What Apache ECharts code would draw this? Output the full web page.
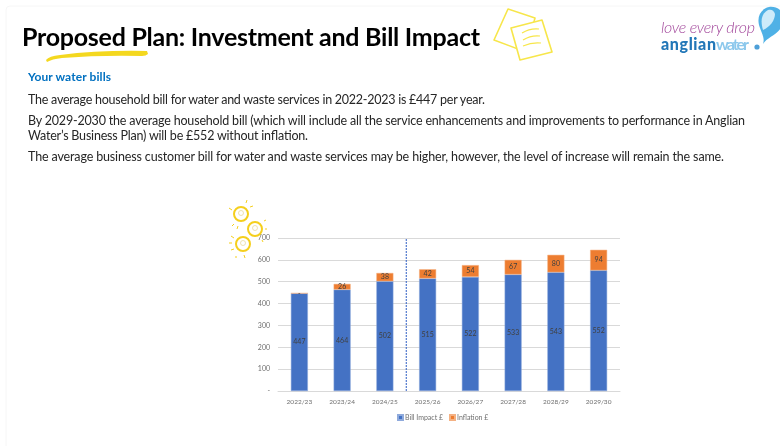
<!DOCTYPE html>
<html>
<head>
<meta charset="utf-8">
<title>Proposed Plan: Investment and Bill Impact</title>
<script src="https://cdn.jsdelivr.net/npm/echarts@6/dist/echarts.min.js"></script>
<style>
html, body { margin: 0; padding: 0; background: #fff; }
#slide { position: relative; width: 780px; height: 446px; overflow: hidden; }
#chart, #deco { position: absolute; left: 0; top: 0; width: 780px; height: 446px; }
#deco { pointer-events: none; }
#deco text { font-family: Lato, "Open Sans", sans-serif; }
</style>
</head>
<body>
<div id="slide">
  <div id="chart"></div>
  <svg id="deco" viewBox="0 0 780 446" xmlns="http://www.w3.org/2000/svg">
    <!-- slide edge -->
    <path d="M6 446V10q0-4 4-4H780" fill="none" stroke="#f6f6f6"/>
    <!-- heading -->
    <text x="22" y="46" font-size="25" font-weight="700" fill="#000" textLength="458">Proposed Plan: Investment and Bill Impact</text>
    <path d="M46 60Q49 56 60 55Q100 50 147 51L148 54Q146 56 142 56Q100 55 62 58Q52 59 47 62Z" fill="#f4d81f"/>
    <text x="28" y="81" font-size="12" font-weight="700" fill="#0070c0" textLength="83">Your water bills</text>
    <text x="28" y="104" font-size="12.5" fill="#262626" textLength="457">The average household bill for water and waste services in 2022-2023 is £447 per year.</text>
    <text x="28" y="125" font-size="12.5" fill="#262626" textLength="717">By 2029-2030 the average household bill (which will include all the service enhancements and improvements to performance in Anglian</text>
    <text x="28" y="140" font-size="12.5" fill="#262626" textLength="280">Water’s Business Plan) will be £552 without inflation.</text>
    <text x="28" y="161" font-size="12.5" fill="#262626" textLength="696">The average business customer bill for water and waste services may be higher, however, the level of increase will remain the same.</text>
    <!-- notes icon -->
    <g fill="#fff" stroke="#f7e64a" stroke-width="1.6" stroke-linejoin="round">
      <path d="M508 9L535 18L526 52L494 40Z"/>
      <path d="M511 28L542 20L552 52L520 60Z"/>
    </g>
    <g fill="none" stroke="#f7e64a" stroke-width="1.2">
      <path d="M522 33Q530 28 539 29"/>
      <path d="M523 40Q531 35 540 36"/>
      <path d="M523 46Q532 42 541 43"/>
    </g>
    <!-- logo -->
    <text x="661" y="33" font-size="16" font-weight="300" font-style="italic" fill="#a2479b" textLength="94">love every drop</text>
    <text x="661" y="50" font-size="16" font-weight="900" fill="#2277b8" textLength="55">anglian</text>
    <text x="716" y="50" font-size="16" font-weight="700" fill="#8cc8ec" textLength="33">water</text>
    <circle cx="757" cy="47" r="2.6" fill="#4d9fd8"/>
    <path d="M763 44C768 36 782 34 784 20C784 10 776 6 769 7C760 9 756 18 760 28C762 34 765 38 763 44Z" fill="#4fb1e6"/>
    <path d="M768 10C762 13 760 20 763 30C770 27 775 20 775 14C774 10 771 9 768 10Z" fill="#cdebfa"/>
    <!-- light bulbs -->
    <g fill="none" stroke="#f5cf1d">
      <circle cx="241" cy="214" r="7" stroke-width="2"/>
      <circle cx="255" cy="229" r="7" stroke-width="2"/>
      <circle cx="243" cy="244" r="7" stroke-width="2"/>
      <path stroke-width="1" d="M229 208l3 2M246 203l1-3M250 207l3-1M234 224l-2 2M238 226l-1 3M264 221l2-1M265 229l2 0M262 240l1 2M229 243l3 0M231 250l3-1M236 256l0 2M244 255l1 3M231 236l3 2"/>
    </g>
    <g fill="none" stroke="#e8d9a0" stroke-width="0.8">
      <circle cx="241" cy="213" r="2.5"/>
      <circle cx="255" cy="228" r="2.5"/>
      <circle cx="243" cy="243" r="2.5"/>
    </g>
  </svg>
</div>
<script>
// values
var years = ['2022/23', '2023/24', '2024/25', '2025/26', '2026/27', '2027/28', '2028/29', '2029/30'];
var billImpact = [447, 464, 502, 515, 522, 533, 543, 552];
var inflation = [0, 26, 38, 42, 54, 67, 80, 94];
var yTicks = { 0: '-', 100: '100', 200: '200', 300: '300', 400: '400', 500: '500', 600: '600', 700: '700' };
// the dashed divider sits after the third year
var dividerAfter = 3;

var myChart = echarts.init(document.getElementById('chart'));
var labelFont = 'Lato, "Open Sans", sans-serif';

function barLabel(params) {
  return params.value === 0 ? '-' : params.value;
}

var option = {
  animation: false,
  textStyle: { fontFamily: labelFont },
  legend: {
    data: ['Bill Impact £', 'Inflation £'],
    left: 397,
    top: 414,
    padding: 0,
    itemWidth: 5,
    itemHeight: 5,
    itemGap: 6,
    icon: 'rect',
    textStyle: { fontSize: 7, color: '#6e6e6e', padding: [0, 0, 0, -3] }
  },
  grid: { left: 278, right: 160, top: 238, bottom: 55 },
  xAxis: [
    {
      type: 'category',
      data: years,
      axisTick: { show: false },
      axisLine: { lineStyle: { color: '#d9d9d9', width: 1 } },
      axisLabel: { color: '#6e6e6e', fontSize: 6.5, margin: 7 }
    },
    {
      // hidden 0..n scale so the divider can land between two categories
      type: 'value',
      min: 0,
      max: years.length,
      show: false
    }
  ],
  yAxis: {
    type: 'value',
    min: 0,
    max: 700,
    interval: 100,
    axisLine: { show: false },
    axisTick: { show: false },
    axisLabel: {
      color: '#6e6e6e',
      fontSize: 7,
      margin: 8,
      formatter: function (v) { return yTicks[v]; }
    },
    splitLine: { lineStyle: { color: '#d9d9d9', width: 1 } }
  },
  series: [
    {
      name: 'Bill Impact £',
      type: 'bar',
      stack: 'bill',
      barWidth: 17,
      data: billImpact,
      itemStyle: { color: '#4472c4', borderColor: '#8faadc', borderWidth: 0.5 },
      label: { show: true, position: 'inside', fontSize: 7, color: '#404040', formatter: barLabel }
    },
    {
      name: 'Inflation £',
      type: 'bar',
      stack: 'bill',
      barWidth: 17,
      data: inflation,
      itemStyle: { color: '#ed7d31', borderColor: '#f4b183', borderWidth: 0.5 },
      label: { show: true, position: 'inside', fontSize: 7, color: '#404040', formatter: barLabel }
    },
    {
      type: 'line',
      xAxisIndex: 1,
      symbol: 'none',
      silent: true,
      data: [[dividerAfter, 0], [dividerAfter, 700]],
      lineStyle: { color: '#2f5fc4', width: 1, type: [2, 1] }
    }
  ]
};

myChart.setOption(option);
</script>
</body>
</html>
